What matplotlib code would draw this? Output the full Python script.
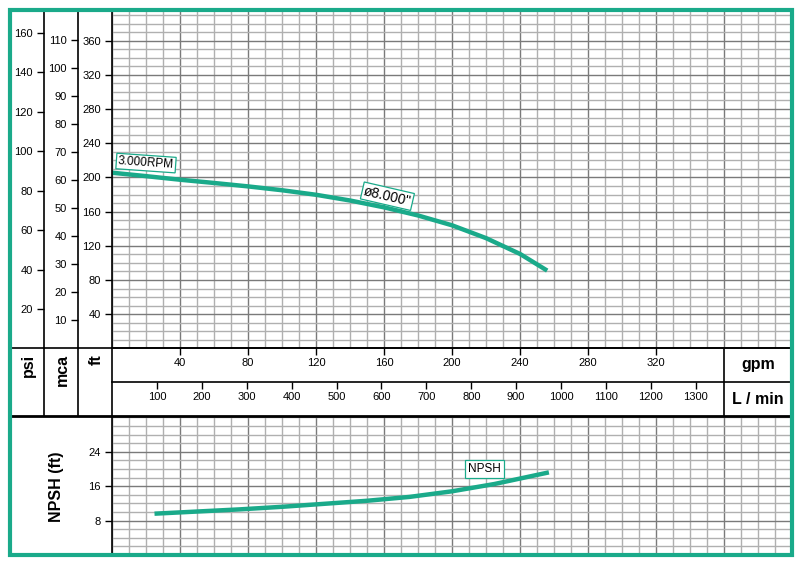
import matplotlib.pyplot as plt
from matplotlib.lines import Line2D
from matplotlib.patches import Rectangle
from matplotlib.ticker import MultipleLocator

plt.rcParams['font.family'] = ['Liberation Sans', 'DejaVu Sans']

# ============================================================
# Data
# ============================================================

head_gpm = [0, 20, 40, 60, 80, 100, 120, 140, 160, 180, 200, 220, 240, 256]
head_ft = [205.5, 201.5, 197.3, 193.5, 189.5, 185.0, 179.7, 173.0, 165.0, 155.5,
           144.0, 129.0, 110.5, 91.0]

npsh_gpm = [25, 50, 75, 100, 125, 150, 175, 200, 225, 257]
npsh_ft = [9.6, 10.1, 10.6, 11.2, 11.9, 12.6, 13.5, 14.8, 16.5, 19.2]

gpm_ticks = [40, 80, 120, 160, 200, 240, 280, 320]
lmin_ticks = [100, 200, 300, 400, 500, 600, 700, 800, 900, 1000, 1100, 1200, 1300]
ft_ticks = [40, 80, 120, 160, 200, 240, 280, 320, 360]
psi_ticks = [20, 40, 60, 80, 100, 120, 140, 160]
mca_ticks = [10, 20, 30, 40, 50, 60, 70, 80, 90, 100, 110]
npsh_ticks = [8, 16, 24]

FT_PER_PSI = 2.3067
FT_PER_M = 3.2808
LPM_PER_GPM = 3.78541

TEAL = '#1aaa8a'
MAJOR = '#7a7a7a'
MINOR = '#b0b0b0'

# ============================================================
# Layout (pixels)
# ============================================================

W, H = 806, 568
X0, X1 = 112, 792
Y_TOP, Y_BASE, Y_MID, Y_BAND, Y_BOT = 9.5, 348.4, 382.3, 416.0, 555.0
GPM_MAX = 400
FT_MAX = 396.4
NPSH_MAX = 32.3


def box(x0, y0, x1, y1):
    return [x0 / W, 1 - y1 / H, (x1 - x0) / W, (y1 - y0) / H]


def fx(x):
    return x / W


def fy(y):
    return 1 - y / H


def grid_style(ax, xmaj, xmin, ymaj, ymin):
    ax.xaxis.set_major_locator(MultipleLocator(xmaj))
    ax.xaxis.set_minor_locator(MultipleLocator(xmin))
    ax.yaxis.set_minor_locator(MultipleLocator(ymin))
    ax.grid(which='minor', color=MINOR, lw=1.0)
    ax.grid(which='major', color=MAJOR, lw=1.0)
    ax.set_axisbelow(True)
    ax.tick_params(axis='x', which='both', length=0, labelbottom=False)
    ax.tick_params(axis='y', which='minor', length=0)
    ax.tick_params(axis='y', which='major', length=5, width=1, labelsize=8, pad=3)
    for s in ['top', 'right', 'bottom']:
        ax.spines[s].set_visible(False)
    ax.spines['left'].set_linewidth(1.2)


def side_axis(x, ymax, ticks):
    ax = fig.add_axes(box(x, Y_TOP, x + 30, Y_BASE))
    ax.set_facecolor('none')
    ax.set_ylim(0, ymax)
    ax.set_yticks(ticks)
    ax.set_xticks([])
    for s in ['top', 'right', 'bottom']:
        ax.spines[s].set_visible(False)
    ax.spines['left'].set_linewidth(1.2)
    ax.tick_params(axis='y', length=5, width=1, labelsize=8, pad=3)
    return ax


fig = plt.figure(figsize=(W / 100, H / 100), dpi=100)

# ============================================================
# Head curve
# ============================================================

ax_head = fig.add_axes(box(X0, Y_TOP, X1, Y_BASE))
ax_head.set_xlim(0, GPM_MAX)
ax_head.set_ylim(0, FT_MAX)
ax_head.set_yticks(ft_ticks)
grid_style(ax_head, 40, 10, 40, 10)
ax_head.plot(head_gpm, head_ft, color=TEAL, lw=3.2, solid_capstyle='butt', solid_joinstyle='round')
ax_head.text(20, 216.8, '3.000RPM', fontsize=8.5, rotation=-4, ha='center', va='center',
             bbox=dict(boxstyle='square,pad=0.15', fc='white', ec=TEAL, lw=0.9))
ax_head.text(162, 178, 'ø8.000"', fontsize=10, rotation=-13, ha='center', va='center',
             bbox=dict(boxstyle='square,pad=0.12', fc='white', ec=TEAL, lw=0.9))

side_axis(44, FT_MAX / FT_PER_PSI, psi_ticks)
side_axis(78, FT_MAX / FT_PER_M, mca_ticks)

# ============================================================
# Flow scales band
# ============================================================

ax_gpm = fig.add_axes(box(X0, Y_BASE, X1, Y_MID))
ax_lmin = fig.add_axes(box(X0, Y_MID, X1, Y_BAND))
for ax, xmax, ticks in [(ax_gpm, GPM_MAX, gpm_ticks),
                        (ax_lmin, GPM_MAX * LPM_PER_GPM, lmin_ticks)]:
    ax.set_facecolor('none')
    ax.set_xlim(0, xmax)
    ax.set_ylim(0, 1)
    ax.set_xticks(ticks)
    ax.set_yticks([])
    for s in ['left', 'right', 'bottom']:
        ax.spines[s].set_visible(False)
    ax.spines['top'].set_linewidth(1.2)
    ax.tick_params(axis='x', top=True, bottom=False, labeltop=True, labelbottom=False,
                   direction='in', length=5, width=1, labelsize=8, pad=-14)
ax_gpm.axvline(360, color='k', lw=1.2)
ax_lmin.axvline(360 * LPM_PER_GPM, color='k', lw=1.2)

fig.add_artist(Line2D([fx(10), fx(X1)], [fy(Y_BASE), fy(Y_BASE)], color='k', lw=1.2))
fig.add_artist(Line2D([fx(10), fx(X1)], [fy(Y_BAND), fy(Y_BAND)], color='k', lw=2))
for x in [44, 78, 112]:
    fig.add_artist(Line2D([fx(x), fx(x)], [fy(Y_BASE), fy(Y_BAND)], color='k', lw=1.2))

for x, s in [(28, 'psi'), (62, 'mca'), (96, 'ft')]:
    fig.text(fx(x), fy(354), s, rotation=90, ha='center', va='top',
             fontsize=11.5, fontweight='bold')
fig.text(fx(758), fy(365), 'gpm', ha='center', va='center', fontsize=11.5, fontweight='bold')
fig.text(fx(758), fy(399), 'L / min', ha='center', va='center', fontsize=11.5, fontweight='bold')

# ============================================================
# NPSH curve
# ============================================================

ax_npsh = fig.add_axes(box(X0, Y_BAND, X1, Y_BOT))
ax_npsh.set_xlim(0, GPM_MAX)
ax_npsh.set_ylim(0, NPSH_MAX)
ax_npsh.set_yticks(npsh_ticks)
grid_style(ax_npsh, 40, 10, 8, 2)
ax_npsh.plot(npsh_gpm, npsh_ft, color=TEAL, lw=3.2, solid_capstyle='butt', solid_joinstyle='round')
ax_npsh.text(219, 19.9, 'NPSH', fontsize=8.5, ha='center', va='center',
             bbox=dict(boxstyle='square,pad=0.25', fc='white', ec=TEAL, lw=0.9))
fig.text(fx(57), fy(487), 'NPSH (ft)', rotation=90, ha='center', va='center',
         fontsize=11.5, fontweight='bold')

# outer frame
fig.add_artist(Rectangle((fx(10), fy(Y_BOT)), fx(791.7) - fx(10), fy(Y_TOP) - fy(Y_BOT),
                         fill=False, ec=TEAL, lw=3, zorder=10))

fig.savefig('out.png', dpi=100)
